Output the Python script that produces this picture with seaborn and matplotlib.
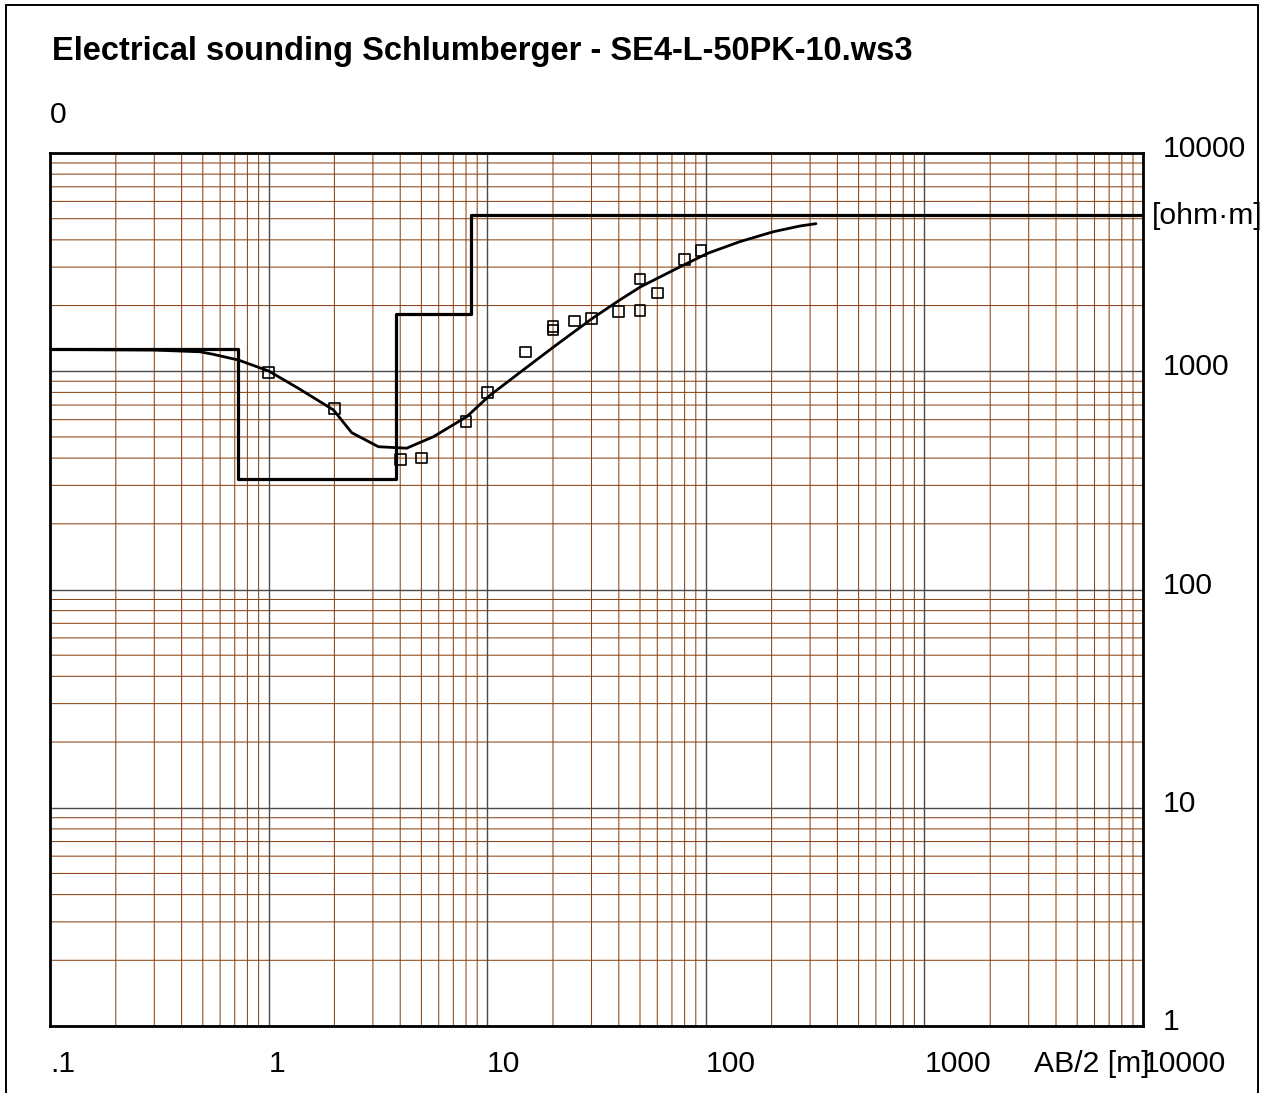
import numpy as np
import pandas as pd
import seaborn as sns
import matplotlib
matplotlib.use("Agg")
import matplotlib.pyplot as plt
from matplotlib.patches import Rectangle
from matplotlib.ticker import FixedLocator, FixedFormatter, NullLocator
from matplotlib.transforms import ScaledTranslation

# layered model (resistivity of each layer, depth of each boundary)
layer_rho = [1261, 320, 1824, 5200]
layer_depth = [0.722, 3.83, 8.39]

# field measurements
meas_ab2 = [1, 2, 4, 5, 8, 10, 15, 20, 20, 25, 30, 40, 50, 50, 60, 80, 95]
meas_rho = [989, 673, 395, 400, 589, 799, 1225, 1600, 1545, 1699, 1741, 1882,
            2647, 1894, 2283, 3245, 3583]

# computed sounding curve
curve_ab2 = [0.1, 0.3, 0.486, 0.557, 0.727, 1.0, 1.35, 1.98, 2.4, 3.18, 4.28,
             5.67, 8.06, 10.2, 14.6, 20.2, 30.3, 40.4, 50.4, 80.9, 102, 143,
             204, 270, 319]
curve_rho = [1258, 1250, 1228, 1196, 1126, 1003, 842, 665, 523, 451, 444, 501,
             619, 770, 1013, 1296, 1748, 2121, 2440, 3100, 3470, 3923, 4360,
             4630, 4744]

x_ticks = [0.1, 1, 10, 100, 1000, 10000]
x_labels = [".1", "1", "10", "100", "1000", "10000"]
y_ticks = [1, 10, 100, 1000, 10000]
y_labels = ["1", "10", "100", "1000", "10000"]

sns.set_style("white")
plt.rcParams["font.family"] = ["Liberation Sans", "DejaVu Sans"]
plt.rcParams["text.color"] = "black"
plt.rcParams["xtick.color"] = "black"
plt.rcParams["ytick.color"] = "black"

W, H = 1265, 1093
fig = plt.figure(figsize=(W / 100, H / 100), dpi=100)
ax = fig.add_axes([50 / W, 1 - 1026 / H, (1143 - 50) / W, (1026 - 153) / H])
ax.set_xscale("log")
ax.set_yscale("log")
ax.set_xlim(x_ticks[0], x_ticks[-1])
ax.set_ylim(y_ticks[0], y_ticks[-1])

# log paper grid: brown 2..9 lines, grey decade lines
minor_x = [m * d for d in x_ticks[:-1] for m in range(2, 10)]
minor_y = [m * d for d in y_ticks[:-1] for m in range(2, 10)]
for v in minor_x:
    ax.axvline(v, color="#8B4513", lw=0.75, snap=False, zorder=0.5)
for v in minor_y:
    ax.axhline(v, color="#8B4513", lw=0.75, snap=False, zorder=0.5)
for v in x_ticks:
    ax.axvline(v, color="#4a4a4a", lw=1.0, zorder=0.6)
for v in y_ticks:
    ax.axhline(v, color="#4a4a4a", lw=1.0, zorder=0.6)

# model step line
step_x = [x_ticks[0]] + layer_depth + [x_ticks[-1]]
step_y = layer_rho + [layer_rho[-1]]
model = pd.DataFrame({"x": step_x, "y": step_y})
sns.lineplot(data=model, x="x", y="y", ax=ax, color="black", lw=2.3,
             drawstyle="steps-post", estimator=None, sort=False)

curve = pd.DataFrame({"x": curve_ab2, "y": curve_rho})
sns.lineplot(data=curve, x="x", y="y", ax=ax, color="black", lw=2.0,
             estimator=None, sort=False)

meas = pd.DataFrame({"x": meas_ab2, "y": meas_rho})
sns.scatterplot(data=meas, x="x", y="y", ax=ax, marker="s", s=60,
                facecolor="none", edgecolor="black", linewidth=1.2, zorder=5)

ax.set_xlabel("")
ax.set_ylabel("")
ax.grid(False)
for sp in ax.spines.values():
    sp.set_visible(True)
    sp.set_color("black")
    sp.set_linewidth(2.0)

# tick labels
fs = 21.7
ax.xaxis.set_major_locator(FixedLocator(x_ticks))
ax.xaxis.set_major_formatter(FixedFormatter(x_labels))
ax.yaxis.set_major_locator(FixedLocator(y_ticks))
ax.yaxis.set_major_formatter(FixedFormatter(y_labels))
ax.xaxis.set_minor_locator(NullLocator())
ax.yaxis.set_minor_locator(NullLocator())
ax.yaxis.tick_right()
ax.tick_params(which="both", length=0)
ax.tick_params(axis="x", which="major", pad=46 * 0.72, labelsize=fs)
ax.tick_params(axis="y", which="major", pad=20 * 0.72, labelsize=fs)
for lab in ax.get_xticklabels():
    lab.set_ha("left")
    lab.set_va("baseline")
for lab in ax.get_yticklabels():
    lab.set_va("baseline")
    lab.set_transform(lab.get_transform() + ScaledTranslation(0, -4 / 100, fig.dpi_scale_trans))

# texts
fig.text(52 / W, 1 - 60 / H, "Electrical sounding Schlumberger - SE4-L-50PK-10.ws3",
         fontsize=23.5, fontweight="bold", va="baseline", ha="left")
fig.text(50 / W, 1 - 123 / H, "0", fontsize=fs, va="baseline", ha="left")
fig.text(1152 / W, 1 - 224 / H, "[ohm\u00b7m]", fontsize=fs, va="baseline", ha="left")
fig.text(1150 / W, 1 - 1072 / H, "AB/2 [m]", fontsize=fs, va="baseline", ha="right")

# outer frame
fig.patches.append(Rectangle((6 / W, -0.1), (1258 - 6) / W, 1 - 5 / H + 0.1,
                             transform=fig.transFigure, fill=False,
                             ec="black", lw=1.4))

fig.savefig("out.png", dpi=100)
